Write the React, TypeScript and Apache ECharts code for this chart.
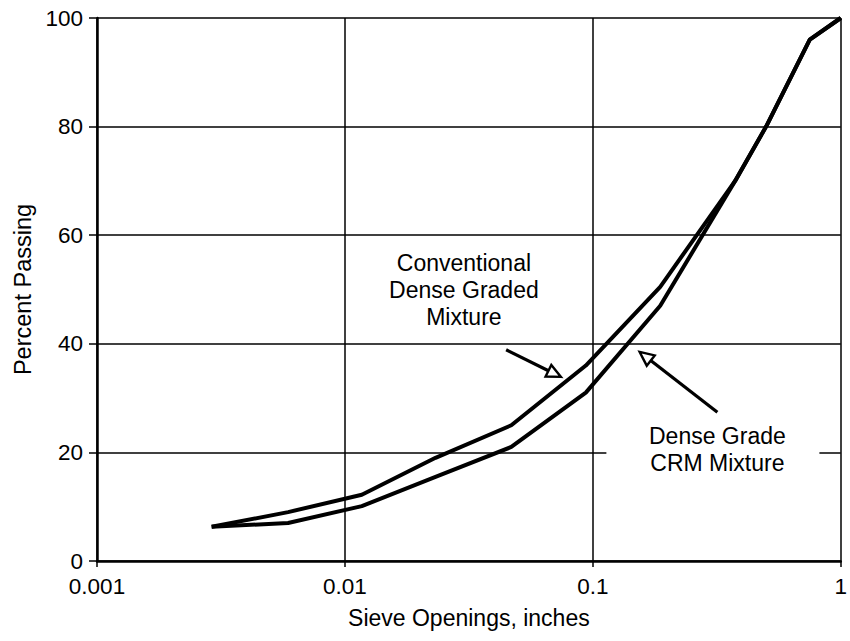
import React, { useEffect, useRef } from "react";
import * as echarts from "echarts";

// Sieve openings (inches) and percent passing for the two gradations
const sieveSizes = [0.0029, 0.0059, 0.0117, 0.0232, 0.0469, 0.0937, 0.187, 0.375, 0.5, 0.75, 1.0];
const conventionalPassing = [6.3, 9.0, 12.2, 19.0, 25.0, 36.0, 50.5, 70.0, 80.0, 96.0, 100.0];
const crmPassing = [6.3, 7.0, 10.1, 15.5, 21.0, 31.0, 47.0, 70.0, 80.0, 96.0, 100.0];

const seriesNames = ["Conventional Dense Graded Mixture", "Dense Grade CRM Mixture"];
const xTickLabels = ["0.001", "0.01", "0.1", "1"];

const conventionalLabel = "Conventional\nDense Graded\nMixture";
const crmLabel = "Dense Grade\nCRM Mixture";

// annotation anchors, in data coordinates
const conventionalLabelAt = [0.0302, 50];
const crmLabelAt = [0.318, 20.6];
const conventionalArrow = { tail: [0.0447, 38.9], tip: [0.0744, 33.9] };
const crmArrow = { tail: [0.318, 27.4], tip: [0.1545, 38.5] };

const FONT = "'Liberation Sans', Arial, Helvetica, sans-serif";

function toPair(xs: number[], ys: number[]) {
  return xs.map((x, i) => [x, ys[i]]);
}

export default function App() {
  const ref = useRef<HTMLDivElement>(null);

  useEffect(() => {
    document.body.style.margin = "0";
    const chart = echarts.init(ref.current!, null, { renderer: "svg" });
    const black = "#000";
    chart.setOption({
      animation: false,
      backgroundColor: "#fff",
      grid: { left: 97, right: 5, top: 18, bottom: 80, containLabel: false },
      xAxis: {
        type: "log",
        logBase: 10,
        min: 0.001,
        max: 1,
        name: "Sieve Openings, inches",
        nameLocation: "middle",
        nameGap: 45,
        nameTextStyle: { fontFamily: FONT, fontSize: 23, color: black },
        axisLine: { show: true, lineStyle: { color: black, width: 2.5 } },
        axisTick: { show: true, length: 6, lineStyle: { color: black, width: 1.5 } },
        minorTick: { show: false },
        splitLine: { show: true, lineStyle: { color: black, width: 1.5 } },
        axisLabel: {
          fontFamily: FONT,
          fontSize: 22.5,
          color: black,
          margin: 14,
          formatter: (v: number) => {
            const idx = Math.round(Math.log10(v)) + 3;
            return xTickLabels[idx] ?? String(v);
          },
        },
      },
      yAxis: {
        type: "value",
        min: 0,
        max: 100,
        interval: 20,
        name: "Percent Passing",
        nameLocation: "middle",
        nameGap: 60,
        nameTextStyle: { fontFamily: FONT, fontSize: 23.5, color: black },
        axisLine: { show: true, lineStyle: { color: black, width: 2.5 } },
        axisTick: { show: true, length: 8, lineStyle: { color: black, width: 1.5 } },
        splitLine: { show: true, lineStyle: { color: black, width: 1.5 } },
        axisLabel: { fontFamily: FONT, fontSize: 22.5, color: black, margin: 14 },
      },
      series: [
        {
          name: seriesNames[0],
          type: "line",
          data: toPair(sieveSizes, conventionalPassing),
          showSymbol: false,
          lineStyle: { color: black, width: 4 },
          z: 3,
        },
        {
          name: seriesNames[1],
          type: "line",
          data: toPair(sieveSizes, crmPassing),
          showSymbol: false,
          lineStyle: { color: black, width: 4 },
          z: 3,
        },
      ],
    });

    const px = (p: number[]) => chart.convertToPixel({ gridIndex: 0 }, p) as number[];

    const arrow = (a: { tail: number[]; tip: number[] }) => {
      const t = px(a.tail);
      const h = px(a.tip);
      const dx = h[0] - t[0];
      const dy = h[1] - t[1];
      const len = Math.hypot(dx, dy);
      const ux = dx / len;
      const uy = dy / len;
      const L = 14;
      const W = 6.5;
      const bx = h[0] - ux * L;
      const by = h[1] - uy * L;
      return [
        {
          type: "line",
          shape: { x1: t[0], y1: t[1], x2: bx, y2: by },
          style: { stroke: black, lineWidth: 3.2 },
          z: 10,
        },
        {
          type: "polygon",
          shape: {
            points: [
              [h[0], h[1]],
              [bx - uy * W, by + ux * W],
              [bx + uy * W, by - ux * W],
            ],
          },
          style: { fill: "#fff", stroke: black, lineWidth: 2.4 },
          z: 10,
        },
      ];
    };

    const c1 = px(conventionalLabelAt);
    const c2 = px(crmLabelAt);

    chart.setOption({
      graphic: [
        {
          type: "text",
          x: c1[0],
          y: c1[1],
          z: 10,
          style: {
            text: conventionalLabel,
            fontFamily: FONT,
            fontSize: 23,
            lineHeight: 27,
            fill: black,
            align: "center",
            verticalAlign: "middle",
          },
        },
        {
          type: "rect",
          shape: { x: c2[0] - 111, y: c2[1] - 26, width: 213, height: 52 },
          style: { fill: "#fff" },
          z: 9,
        },
        {
          type: "text",
          x: c2[0],
          y: c2[1],
          z: 10,
          style: {
            text: crmLabel,
            fontFamily: FONT,
            fontSize: 23,
            lineHeight: 27,
            fill: black,
            align: "center",
            verticalAlign: "middle",
          },
        },
        ...arrow(conventionalArrow),
        ...arrow(crmArrow),
      ],
    });

    return () => chart.dispose();
  }, []);

  return <div ref={ref} style={{ width: 850, height: 641 }} />;
}
